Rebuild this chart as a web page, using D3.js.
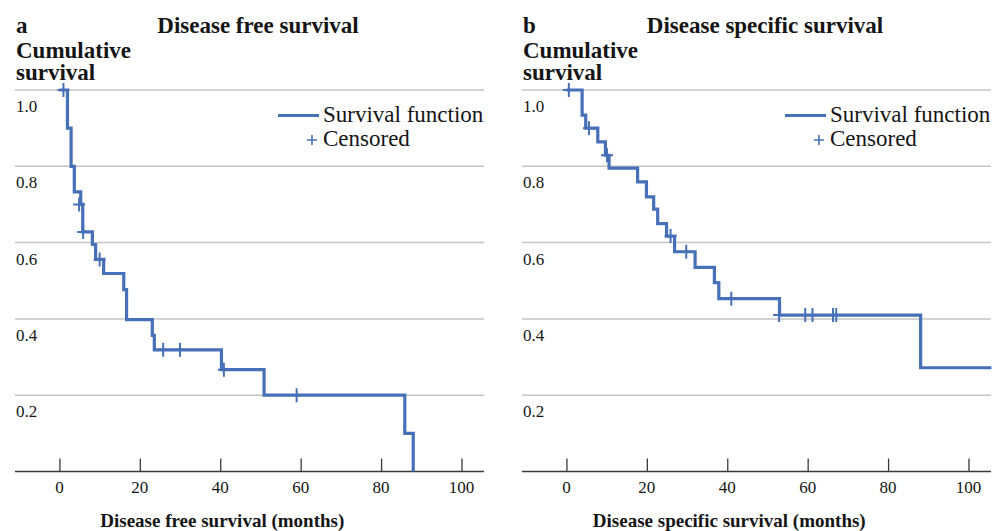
<!doctype html>
<html lang="en">
<head>
  <meta charset="utf-8">
  <title>Kaplan-Meier survival</title>
  <script src="https://d3js.org/d3.v7.min.js"></script>
  <style>
    body { margin: 0; background: #fff; }
    text { font-family: "Liberation Serif", "Times New Roman", serif; fill: #151515; }
  </style>
</head>
<body>
<svg id="chart" width="1003" height="531"></svg>

<script>
// Disease free survival (panel a): step points [months, survival]
var dfsSteps = [
  [0, 1.0], [2.0, 0.90], [2.9, 0.80], [3.7, 0.733], [5.3, 0.70], [5.8, 0.628],
  [8.2, 0.595], [9.0, 0.556], [11.0, 0.519], [16.0, 0.477], [16.7, 0.398],
  [23.1, 0.357], [23.6, 0.319], [40.3, 0.267], [50.9, 0.20], [85.9, 0.10], [88.0, 0.0]
];
var dfsCensored = [
  [1.0, 1.0], [4.9, 0.70], [5.9, 0.628], [10.0, 0.556], [25.8, 0.319],
  [30.0, 0.319], [40.9, 0.267], [59.0, 0.20]
];

// Disease specific survival (panel b)
var dssSteps = [
  [0, 1.0], [3.9, 0.934], [4.8, 0.90], [7.8, 0.864], [9.7, 0.829], [10.6, 0.795],
  [17.7, 0.759], [19.9, 0.72], [21.7, 0.688], [22.7, 0.65], [24.9, 0.617],
  [26.9, 0.576], [32.0, 0.535], [36.8, 0.495], [37.9, 0.453], [53.0, 0.41],
  [88.1, 0.272], [105.7, 0.272]
];
var dssCensored = [
  [0.6, 1.0], [5.6, 0.90], [10.1, 0.829], [25.9, 0.617], [29.8, 0.576],
  [41.0, 0.453], [52.9, 0.41], [59.4, 0.41], [61.2, 0.41], [66.3, 0.41], [67.1, 0.41]
];

var xTicks = [0, 20, 40, 60, 80, 100];
var yTicks = [0.2, 0.4, 0.6, 0.8, 1.0];
var legendLabels = ["Survival function", "Censored"];

var panels = [
  { left: 15, letter: "a", title: "Disease free survival", titleX: 258,
    xTitle: "Disease free survival (months)", steps: dfsSteps, censored: dfsCensored },
  { left: 522, letter: "b", title: "Disease specific survival", titleX: 765,
    xTitle: "Disease specific survival (months)", steps: dssSteps, censored: dssCensored }
];

var blue = "#4670b7";
var svg = d3.select("#chart");
var plotW = 469;

panels.forEach(function (p) {
  var g = svg.append("g");
  var x = d3.scaleLinear().domain([-11.05, 105.6]).range([p.left, p.left + plotW]);
  var y = d3.scaleLinear().domain([0, 1]).range([471.5, 90]);

  // header texts
  g.append("text").attr("x", p.left + 1).attr("y", 33)
    .style("font-weight", "bold").style("font-size", "23px").text(p.letter);
  g.append("text").attr("x", p.titleX).attr("y", 33).attr("text-anchor", "middle")
    .style("font-weight", "bold").style("font-size", "23px").text(p.title);
  var ylab = g.append("text").attr("x", p.left + 1).attr("y", 58)
    .style("font-weight", "bold").style("font-size", "23px");
  ylab.append("tspan").attr("x", p.left + 1).text("Cumulative");
  ylab.append("tspan").attr("x", p.left + 1).attr("dy", 22).text("survival");

  // gridlines + y labels (below the line)
  g.selectAll(".grid").data(yTicks).enter().append("line")
    .attr("x1", p.left).attr("x2", p.left + plotW)
    .attr("y1", function (d) { return y(d); }).attr("y2", function (d) { return y(d); })
    .attr("stroke", "#c4c4c4").attr("stroke-width", 1.5);
  g.selectAll(".ylab").data(yTicks).enter().append("text")
    .attr("x", p.left + 1).attr("y", function (d) { return y(d) + 22; })
    .style("font-size", "17px").text(function (d) { return d.toFixed(1); });

  // x axis
  var axis = g.append("g").attr("transform", "translate(0," + y(0) + ")")
    .call(d3.axisTop(x).tickValues(xTicks).tickSize(13).tickFormat(""));
  axis.select(".domain").attr("d", "M" + p.left + ",0H" + (p.left + plotW))
    .attr("stroke", "#3a3a3a").attr("stroke-width", 1.5);
  axis.selectAll(".tick line").attr("stroke", "#3a3a3a").attr("stroke-width", 1.3);
  g.selectAll(".xlab").data(xTicks).enter().append("text")
    .attr("x", function (d) { return x(d); }).attr("y", 493)
    .attr("text-anchor", "middle").style("font-size", "17px").text(function (d) { return d; });
  g.append("text").attr("x", x(40.5)).attr("y", 527).attr("text-anchor", "middle")
    .style("font-weight", "bold").style("font-size", "19px").text(p.xTitle);

  // survival step line
  var line = d3.line().x(function (d) { return x(d[0]); }).y(function (d) { return y(d[1]); })
    .curve(d3.curveStepAfter);
  g.append("path").datum(p.steps).attr("d", line)
    .attr("fill", "none").attr("stroke", blue).attr("stroke-width", 3.2);

  // censored marks
  g.selectAll(".cens").data(p.censored).enter().append("path")
    .attr("d", function (d) {
      var cx = x(d[0]), cy = y(d[1]);
      return "M" + (cx - 6) + "," + cy + "H" + (cx + 6) + "M" + cx + "," + (cy - 7) + "V" + (cy + 7);
    })
    .attr("stroke", blue).attr("stroke-width", 2).attr("fill", "none");

  // legend
  var lx = p.left + 263;
  g.append("line").attr("x1", lx).attr("x2", lx + 41).attr("y1", 115.5).attr("y2", 115.5)
    .attr("stroke", blue).attr("stroke-width", 3.2);
  g.append("text").attr("x", lx + 45).attr("y", 122).style("font-size", "23px").text(legendLabels[0]);
  g.append("path")
    .attr("d", "M" + (lx + 29) + ",140H" + (lx + 39) + "M" + (lx + 34) + ",135V145")
    .attr("stroke", blue).attr("stroke-width", 1.6);
  g.append("text").attr("x", lx + 45).attr("y", 146).style("font-size", "23px").text(legendLabels[1]);
});
</script>
</body>
</html>
